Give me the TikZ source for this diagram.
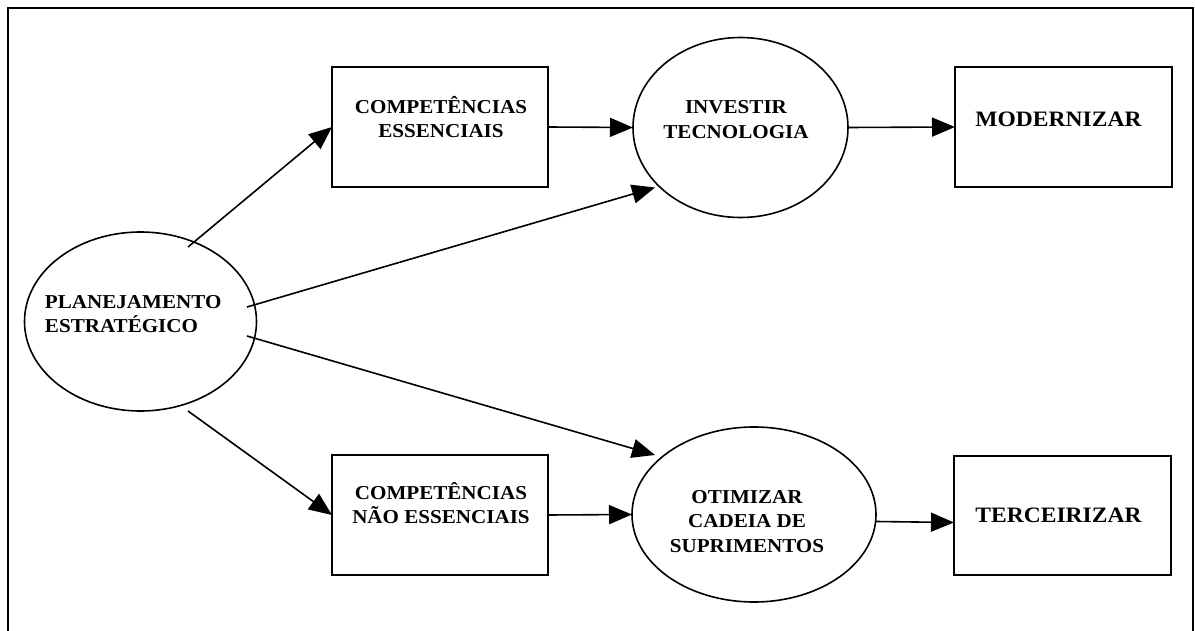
\documentclass[tikz,border=0pt]{standalone}
\usepackage{fontspec}
\setmainfont{Liberation Serif}[FakeStretch=1.07]
\usetikzlibrary{arrows.meta,calc,shapes.geometric}

\tikzset{
  every node/.style={outer sep=0pt, inner sep=0pt},
  shapebox/.style={draw, line width=1.6pt, rectangle, minimum width=#1, minimum height=120pt},
  oval/.style={draw, line width=1.6pt, ellipse},
  lbl/.style={font={\bfseries\fontsize{19.7}{24.5}\selectfont}, align=center, anchor=base},
  biglbl/.style={font={\bfseries\fontsize{22}{26}\selectfont}, anchor=base},
  link/.style={line width=1.6pt, -{Triangle[length=23pt,width=19pt]}},
}

\begin{document}
\begin{tikzpicture}[x=1pt, y=-1pt]
  \useasboundingbox (0,0) rectangle (1195,631);

  % open frame round the chart
  \draw[line width=1.4pt] (8,640) -- (8,8) -- (1193,8) -- (1193,640);

  % shapes
  \node[oval, minimum width=232pt, minimum height=179pt] (plan) at (140.5,321.5) {};
  \node[shapebox=216pt] (ce)  at (440,127) {};
  \node[shapebox=216pt] (cne) at (440,515) {};
  \node[oval, minimum width=215pt, minimum height=180pt] (inv) at (740.5,127.5) {};
  \node[oval, minimum width=244pt, minimum height=175pt] (oti) at (754,514.5) {};
  \node[shapebox=217pt] (mod) at (1063.5,127) {};
  \node[shapebox=217pt, minimum height=119pt] (ter) at (1062.5,515.5) {};

  % labels (the base anchor of a multi-line label sits on its last line)
  \node[lbl, align=left, anchor=base west] (plan-t) at (45,333) {PLANEJAMENTO\\ESTRATÉGICO};
  \node[lbl] (ce-t)  at (441,138) {COMPETÊNCIAS\\ESSENCIAIS};
  \node[lbl] (cne-t) at (441,523.5) {COMPETÊNCIAS\\NÃO ESSENCIAIS};
  \node[lbl] (inv-t) at (736,138.5) {INVESTIR\\TECNOLOGIA};
  \node[lbl] (oti-t) at (747,552) {OTIMIZAR\\CADEIA DE\\SUPRIMENTOS};
  \node[biglbl] (mod-t) at (1058.5,127) {MODERNIZAR};
  \node[biglbl] (ter-t) at (1058.5,522) {TERCEIRIZAR};

  % connectors
  \draw[link] ($(plan.center)+(47.5,-74.5)$) -- (ce.west);
  \draw[link] ($(plan.center)+(106.5,-14.5)$) -- ($(inv.center)+(-85.5,60)$);
  \draw[link] ($(plan.center)+(106.5,14.5)$) -- ($(oti.center)+(-99,-59.5)$);
  \draw[link] ($(plan.center)+(47.5,89.5)$) -- (cne.west);
  \draw[link] (ce.east) -- (inv.west);
  \draw[link] (cne.east) -- (oti.west);
  \draw[link] (inv.east) -- (mod.west);
  \draw[link] ([yshift=-7pt]oti.east) -- ([yshift=-7pt]ter.west);
\end{tikzpicture}
\end{document}
